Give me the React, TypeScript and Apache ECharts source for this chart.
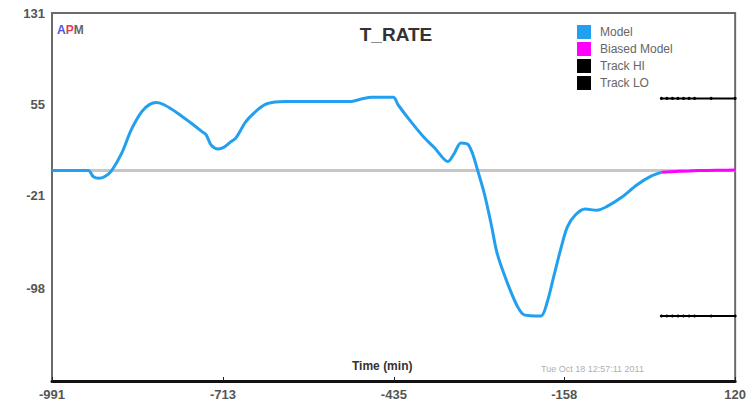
import React, { useEffect, useRef } from "react";
import * as echarts from "echarts";

// Model history (time in minutes, T_RATE value)
const modelTime = [
  -991, -932, -924, -915, -905, -894, -878, -862, -845, -832, -821, -808, -786, -765, -746, -740,
  -732, -721, -711, -700, -692, -676, -660, -644, -628, -611, -560, -504, -488, -471, -436, -428,
  -407, -385, -369, -347, -337, -326, -315, -307, -299, -288, -277, -267, -250, -234, -223,
  -196, -186, -175, -164, -153, -140, -124, -105, -89, -64, -40, -16, 0,
];
const modelValue = [
  0, 0, -5, -6.5, -5, 0, 14, 34, 49, 55, 56.5, 54.5, 47.5, 39.5, 32, 29.5,
  21, 18, 19.5, 24, 27, 40.5, 49, 55, 57, 57.5, 57.5, 57.5, 59.5, 61, 61, 54.5,
  40.5, 27, 19, 7.5, 14, 23, 22, 14, 0.5, -19, -44, -69, -94, -113, -120,
  -121, -110, -88, -66, -47, -37, -32, -33, -30, -22, -12, -4.5, -1.5,
];

// Biased model forecast
const biasedTime = [0, 15, 30, 45, 60, 75, 90, 105, 120];
const biasedValue = [-1.5, -1, -0.5, -0.3, 0, 0, 0.2, 0.3, 0.5];

// Tracking limits
const trackTime = [0, 9, 18, 27, 36, 45, 54, 81, 120];
const trackHi = 60;
const trackLo = -121;

// Axis tick labels
const xTicks = [-991, -713, -435, -158, 120];
const yTicks = [131, 55, -21, -98];

const MODEL_COLOR = "#239ff0";
const BIASED_COLOR = "#ff00ff";
const FONT = "Liberation Sans, Arial, sans-serif";

export default function App() {
  const ref = useRef<HTMLDivElement>(null);

  useEffect(() => {
    if (!ref.current) return;
    const chart = echarts.init(ref.current, undefined, { renderer: "svg" });
    const labelStyle = {
      color: "#555",
      fontWeight: "bold" as const,
      fontSize: 13,
      fontFamily: FONT,
    };
    chart.setOption({
      animation: false,
      backgroundColor: "#fff",
      title: {
        text: "T_RATE",
        left: 391,
        top: 20,
        textAlign: "center",
        textStyle: { color: "#333", fontSize: 19, fontWeight: "bold", fontFamily: FONT },
      },
      legend: {
        data: ["Model", "Biased Model", "Track HI", "Track LO"],
        orient: "vertical",
        left: 572,
        top: 20,
        itemWidth: 14,
        itemHeight: 14,
        itemGap: 3,
        icon: "rect",
        textStyle: { color: "#666", fontSize: 12, fontFamily: FONT, padding: [0, 0, 0, 4] },
      },
      grid: {
        left: 52,
        right: 9,
        top: 13,
        bottom: 24,
        show: true,
        borderColor: "#6a6a6a",
        borderWidth: 2,
      },
      xAxis: {
        type: "value",
        min: -991,
        max: 120,
        axisLine: { onZero: false, lineStyle: { color: "#111", width: 3 } },
        axisTick: {
          show: true,
          inside: true,
          length: 4,
          customValues: xTicks,
          lineStyle: { color: "#222", width: 1 },
        },
        axisLabel: {
          customValues: xTicks,
          margin: 7,
          ...labelStyle,
          formatter: (v: number) => String(Math.round(v)),
        },
        splitLine: { show: false },
      },
      yAxis: {
        type: "value",
        min: -175,
        max: 131,
        axisLine: { show: true, onZero: false, lineStyle: { color: "#6a6a6a", width: 2 } },
        axisTick: { show: false },
        axisLabel: {
          customValues: yTicks,
          margin: 7,
          ...labelStyle,
          formatter: (v: number) => String(Math.round(v)),
        },
        splitLine: { show: false },
      },
      graphic: [
        {
          type: "text",
          left: 57,
          top: 24,
          style: {
            text: "{a|A}{p|P}{m|M}",
            rich: {
              a: { fill: "#4a55e8", fontWeight: "bold", fontSize: 12, fontFamily: FONT },
              p: { fill: "#e83a4a", fontWeight: "bold", fontSize: 12, fontFamily: FONT },
              m: { fill: "#666", fontWeight: "bold", fontSize: 12, fontFamily: FONT },
            },
          },
        },
        {
          type: "text",
          left: 352,
          top: 360,
          style: { text: "Time (min)", fill: "#333", fontWeight: "bold", fontSize: 12, fontFamily: FONT },
        },
        {
          type: "text",
          left: 541,
          top: 364,
          style: { text: "Tue Oct 18 12:57:11 2011", fill: "#b0b0b0", fontSize: 9, fontFamily: FONT },
        },
      ],
      series: [
        {
          name: "zero",
          type: "line",
          data: [[-991, 0], [120, 0]],
          showSymbol: false,
          silent: true,
          z: 1,
          lineStyle: { color: "#c6c6c6", width: 3 },
        },
        {
          name: "Model",
          type: "line",
          data: modelTime.map((t, i) => [t, modelValue[i]]),
          showSymbol: false,
          smooth: 0.3,
          z: 3,
          color: MODEL_COLOR,
          lineStyle: { color: MODEL_COLOR, width: 3 },
        },
        {
          name: "Biased Model",
          type: "line",
          data: biasedTime.map((t, i) => [t, biasedValue[i]]),
          showSymbol: false,
          z: 4,
          color: BIASED_COLOR,
          lineStyle: { color: BIASED_COLOR, width: 3 },
        },
        {
          name: "Track HI",
          type: "line",
          data: trackTime.map((t) => [t, trackHi]),
          symbol: "circle",
          symbolSize: 3,
          z: 4,
          color: "#000",
          itemStyle: { color: "#000" },
          lineStyle: { color: "#000", width: 2 },
        },
        {
          name: "Track LO",
          type: "line",
          data: trackTime.map((t) => [t, trackLo]),
          symbol: "circle",
          symbolSize: 3,
          z: 4,
          color: "#000",
          itemStyle: { color: "#000" },
          lineStyle: { color: "#000", width: 2 },
        },
      ],
    });
    return () => chart.dispose();
  }, []);

  return <div ref={ref} style={{ position: "fixed", left: 0, top: 0, width: 749, height: 405 }} />;
}
